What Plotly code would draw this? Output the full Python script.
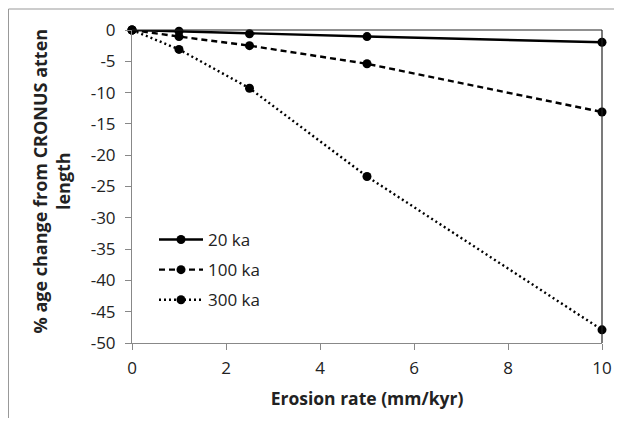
import plotly.graph_objects as go

erosion = [0, 1, 2.5, 5, 10]
age_20ka = [0, -0.2, -0.6, -1.05, -1.95]
age_100ka = [0, -1.05, -2.5, -5.4, -13.1]
age_300ka = [0, -3.1, -9.3, -23.4, -47.9]
series_names = ["20 ka", "100 ka", "300 ka"]
x_ticks = [0, 2, 4, 6, 8, 10]
y_ticks = [0, -5, -10, -15, -20, -25, -30, -35, -40, -45, -50]
y_ticktext = ["0", "-5", "-10", "-15", "-20", "-25", "-30", "-35", "-40", "-45", "-50"]

FONT = "Open Sans"
# page body has an 8px margin, so figure is drawn 8px in from the window edge;
# keep it small enough that the page does not overflow (no scrollbars)
W, H = 606, 410
L, R, T, B = 124, 12, 22, 75
PW, PH = W - L - R, H - T - B

fig = go.Figure()
for name, ys, dash in zip(series_names, [age_20ka, age_100ka, age_300ka],
                          ["solid", "6px,4px", "2px,3px"]):
    fig.add_trace(go.Scatter(
        x=erosion, y=ys, name=name, legendgroup=name, mode="lines+markers",
        line=dict(color="black", width=2.4, dash=dash),
        marker=dict(color="black", size=9, symbol="circle"),
        cliponaxis=False,
    ))

fig.update_layout(
    width=W, height=H,
    margin=dict(l=L, r=R, t=T, b=B),
    paper_bgcolor="white", plot_bgcolor="white",
    font=dict(family=FONT, size=17, color="#222"),
    showlegend=True,
    legend=dict(x=(146 - L) / PW, y=(T + PH - 214) / PH, xanchor="left", yanchor="top",
                bgcolor="rgba(0,0,0,0)", font=dict(family=FONT, size=17, color="#222"),
                tracegroupgap=5, itemwidth=44),
    xaxis=dict(range=[0, 10], tickvals=x_ticks, showgrid=False, zeroline=False,
               showline=True, linecolor="#888", linewidth=1, automargin=False,
               ticks="outside", ticklen=6, tickcolor="#888", ticklabelstandoff=4,
               tickfont=dict(size=17),
               title=dict(text="<b>Erosion rate (mm/kyr)</b>", font=dict(size=17.5, color="#222"), standoff=14)),
    yaxis=dict(range=[-50, 0], tickvals=y_ticks, ticktext=y_ticktext, showgrid=False, zeroline=False,
               showline=True, linecolor="#888", linewidth=1, automargin=False,
               ticks="outside", ticklen=6, tickcolor="#888", ticklabelstandoff=6,
               tickfont=dict(size=17)),
    annotations=[
        dict(text="<b>% age change from CRONUS atten<br>length</b>", textangle=-90,
             xref="paper", yref="paper", x=(42.5 - L) / PW, y=(T + PH - 173) / PH,
             xanchor="center", yanchor="middle", showarrow=False,
             font=dict(family=FONT, size=18, color="#222")),
    ],
    shapes=[
        dict(type="line", xref="paper", yref="paper", x0=0, x1=1, y0=1, y1=1,
             line=dict(color="#222", width=1.2)),
        dict(type="line", xref="paper", yref="paper", x0=1, x1=1, y0=0, y1=1,
             line=dict(color="#222", width=1.2)),
        # outer chart border (only the left and top edges fall inside the window)
        dict(type="line", xref="paper", yref="paper",
             x0=(0.5 - L) / PW, x1=(W - L) / PW, y0=1 + (T - 1) / PH, y1=1 + (T - 1) / PH,
             line=dict(color="#999", width=1)),
        dict(type="line", xref="paper", yref="paper",
             x0=(0.5 - L) / PW, x1=(0.5 - L) / PW, y0=-B / PH, y1=1 + (T - 1) / PH,
             line=dict(color="#999", width=1)),
    ],
)

fig.write_html("out.html")
